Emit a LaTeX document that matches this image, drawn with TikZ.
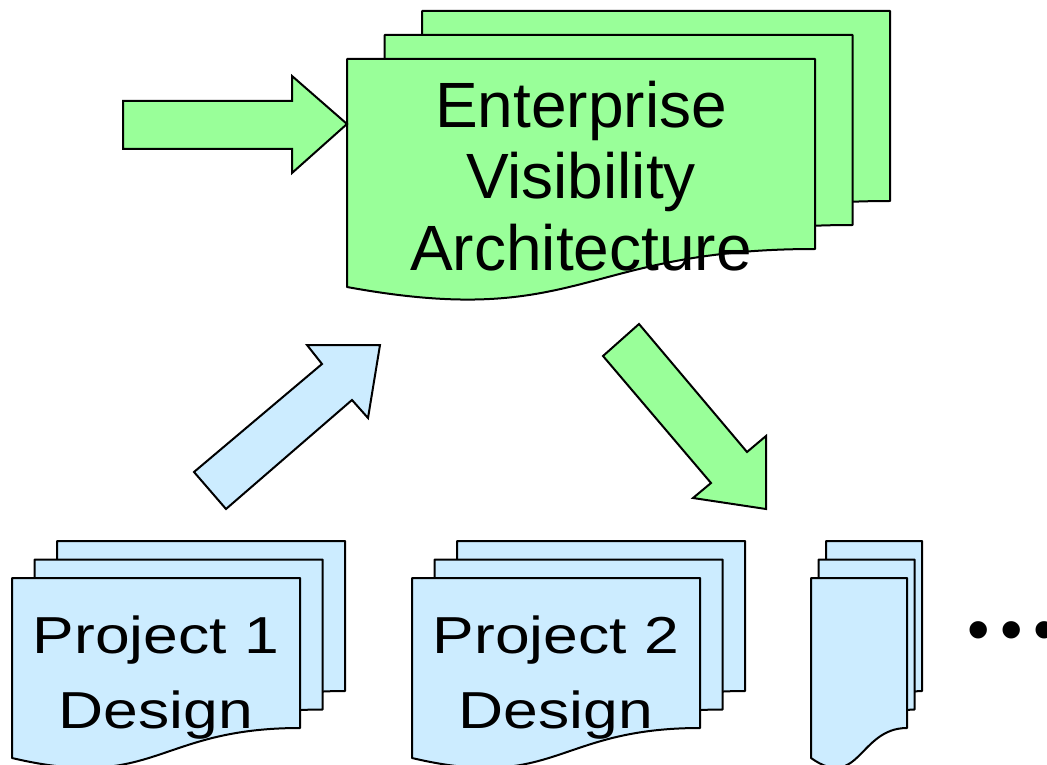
\documentclass[tikz,border=0pt]{standalone}
\usepackage{fontspec}
\setmainfont{Liberation Sans}
\usepackage{tikz}
\definecolor{leaf}{HTML}{99FF99}
\definecolor{sky}{HTML}{CCECFF}
\tikzset{
  page/.style={draw=black, line width=1pt, line join=round},
  gpage/.style={page, fill=leaf},
  bpage/.style={page, fill=sky},
  blk/.style={draw=black, line width=1pt, line join=miter},
  lab/.style={align=center, inner sep=0pt, font=\fontsize{32}{35.75}\selectfont},
  labs/.style={align=center, inner sep=0pt, font=\fontsize{26}{37.5}\selectfont, xscale=1.2, transform shape},
}
% one sheet: style, left, top, width, height of right edge
\newcommand{\docpage}[5]{%
  \draw[#1] ({#2},{#3}) -- ({#2+#4},{#3}) -- ({#2+#4},{#3+#5})
    .. controls ({#2+#4/2},{#3+#5}) and ({#2+#4/2},{#3+1.426*#5}) .. ({#2},{#3+1.2*#5}) -- cycle;}

\begin{document}
\begin{tikzpicture}[x=0.5pt,y=-0.5pt]
  \useasboundingbox (0,0) rectangle (1047,764);
  % architecture stack
  \foreach \i in {2,1,0} {\docpage{gpage}{347+37.5*\i}{59-24*\i}{468}{190}}
  \node[lab] (eva) at (581,176) {Enterprise\\Visibility\\Architecture};
  % project stacks
  \foreach \sx in {0,400} {
    \foreach \i in {2,1,0} {\docpage{bpage}{12+\sx+22.5*\i}{578-18.5*\i}{288}{150}}
  }
  \foreach \i in {2,1,0} {\docpage{bpage}{811+7.5*\i}{578-18.5*\i}{96}{150}}
  \node[labs] (pa) at (156,677.5) {Project 1\\Design};
  \node[labs] (pb) at (556,677.5) {Project 2\\Design};
  \node[font=\fontsize{32}{32}\selectfont, anchor=base west, inner sep=0pt] (more) at (967,651) {•\hspace{5.3pt}•\hspace{5.3pt}•};
  % block arrows
  \draw[blk, fill=leaf] (123,101) -- (292,101) -- (292,76) -- (347,124)
    -- (292,173) -- (292,149) -- (123,149) -- cycle;
  \draw[blk, fill=sky] (194,472) -- (322,364) -- (307,345) -- (380,345)
    -- (368,418) -- (352,400) -- (226,509) -- cycle;
  \draw[blk, fill=leaf] (603,356) -- (639,324) -- (747,452) -- (766,436)
    -- (766,509) -- (693,498) -- (711,483) -- cycle;
\end{tikzpicture}
\end{document}
